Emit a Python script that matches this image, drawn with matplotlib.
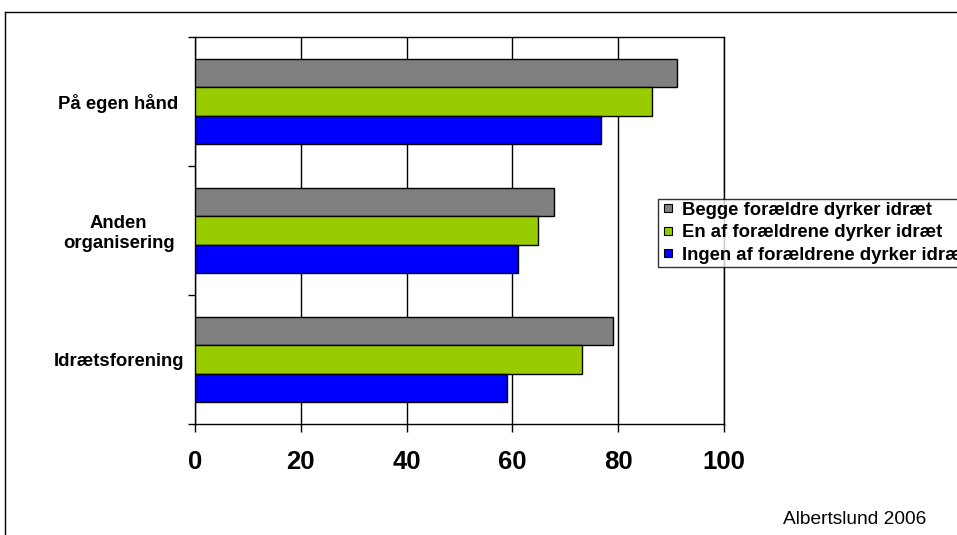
import matplotlib.pyplot as plt
import numpy as np
from matplotlib.lines import Line2D

plt.rcParams['font.family'] = ['Liberation Sans', 'DejaVu Sans']

# Data
categories = ["Idrætsforening", "Anden\norganisering", "På egen hånd"]
series = ["Begge forældre dyrker idræt",
          "En af forældrene dyrker idræt",
          "Ingen af forældrene dyrker idræt"]
begge = [79.0, 67.9, 91.1]
en_af = [73.2, 64.8, 86.4]
ingen = [59.0, 61.1, 76.8]
colors = ["#808080", "#99CC00", "#0000FF"]
xticks = [0, 20, 40, 60, 80, 100]

fig = plt.figure(figsize=(9.57, 5.35), dpi=100)
ax = fig.add_axes([195/957, 1-424/535, 529/957, 387/535])

y = np.arange(len(categories))
h = 0.22
for vals, off, col in zip([begge, en_af, ingen], [h, 0, -h], colors):
    ax.barh(y + off, vals, height=h, color=col, edgecolor='black', linewidth=1, zorder=3)

ax.set_xlim(0, 100)
ax.set_ylim(-0.5, 2.5)
ax.set_xticks(xticks)
ax.set_xticklabels([str(t) for t in xticks], fontsize=18.5, fontweight='bold')
ax.tick_params(axis='x', direction='out', length=6, width=1, pad=13)
ax.grid(axis='x', color='black', linewidth=1, zorder=0)

ax.set_yticks(y)
ax.set_yticklabels(categories, fontsize=13.3, fontweight='bold', ha='center')
ax.tick_params(axis='y', length=0, pad=55)
ax.set_yticks([-0.5, 0.5, 1.5, 2.5], minor=True)
ax.tick_params(axis='y', which='minor', direction='out', length=5, width=1)
for s in ax.spines.values():
    s.set_color('black')
    s.set_linewidth(1)

handles = [Line2D([], [], linestyle='none', marker='s', markersize=5.5,
                  markerfacecolor=c, markeredgecolor='black', markeredgewidth=0.8)
           for c in colors]
fig.legend(handles, series, loc='upper left', bbox_to_anchor=(658/957, 1-199/535),
           prop={'size': 13.3, 'weight': 'bold'}, frameon=True, fancybox=False,
           edgecolor='black', handlelength=0.8, handletextpad=0.35,
           labelspacing=0.3, borderpad=0.15, borderaxespad=0)

# outer border
fig.add_artist(Line2D([5/957, 5/957], [0, 1-12/535], color='black', linewidth=1))
fig.add_artist(Line2D([5/957, 1], [1-12/535, 1-12/535], color='black', linewidth=1))

fig.text(926/957, 1-520/535, "Albertslund 2006", fontsize=13.8, ha='right', va='center')

plt.savefig("out.png", dpi=100)
